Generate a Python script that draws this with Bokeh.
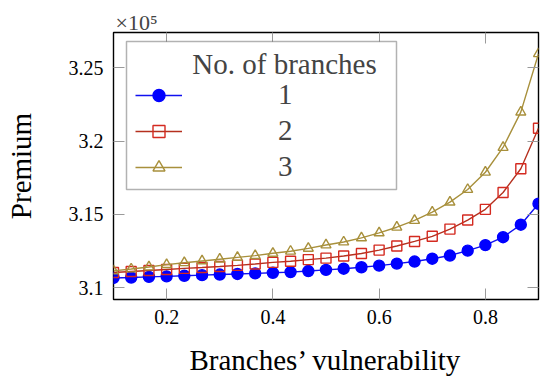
from bokeh.plotting import figure
from bokeh.models import (Legend, LegendItem, LinearAxis, FixedTicker, Range1d,
                          BoxAnnotation, Label, CustomJSTickFormatter)
from bokeh.embed import file_html
from bokeh.resources import INLINE

# ---- data (premium in units of 10^5) ----
vulnerability = [0.1, 0.1333, 0.1667, 0.2, 0.2333, 0.2667, 0.3, 0.3333, 0.3667,
                 0.4, 0.4333, 0.4667, 0.5, 0.5333, 0.5667, 0.6, 0.6333, 0.6667,
                 0.7, 0.7333, 0.7667, 0.8, 0.8333, 0.8667, 0.9]
premium_1 = [3.1067, 3.1070, 3.1074, 3.1078, 3.1082, 3.1086, 3.1090, 3.1094, 3.1098,
             3.1102, 3.1107, 3.1114, 3.1122, 3.1130, 3.1140, 3.1151, 3.1165, 3.1179,
             3.1198, 3.1220, 3.1253, 3.1291, 3.1345, 3.1430, 3.1573]
premium_2 = [3.1104, 3.1111, 3.1118, 3.1125, 3.1132, 3.1138, 3.1145, 3.1153, 3.1162,
             3.1173, 3.1181, 3.1192, 3.1202, 3.1217, 3.1234, 3.1257, 3.1285, 3.1316,
             3.1351, 3.1400, 3.1462, 3.1535, 3.1650, 3.1812, 3.2088]
premium_3 = [3.1115, 3.1128, 3.1142, 3.1158, 3.1171, 3.1183, 3.1195, 3.1207, 3.1219,
             3.1235, 3.1249, 3.1269, 3.1292, 3.1312, 3.1340, 3.1374, 3.1413, 3.1459,
             3.1516, 3.1584, 3.1670, 3.1788, 3.1957, 3.2198, 3.2596]
series_labels = ["1", "2", "3"]
x_ticks = [0.2, 0.4, 0.6, 0.8]
y_ticks = [3.1, 3.15, 3.2, 3.25]

FONT = "Liberation Serif"
BIG = "29px"

p = figure(width=550, height=386, output_backend="svg", toolbar_location=None,
           x_range=Range1d(0.1, 0.9), y_range=Range1d(3.092, 3.2741),
           min_border_left=113, min_border_right=12, min_border_top=32,
           min_border_bottom=87, title=None)
p.grid.visible = False
p.outline_line_color = "black"
p.outline_line_width = 1.4
p.background_fill_color = "white"

fmt = CustomJSTickFormatter(code="return tick.toString();")

def style_axis(ax, labels=True):
    ax.axis_line_color = None
    ax.major_tick_line_color = "#9a9a9a"
    ax.major_tick_line_width = 1
    ax.major_tick_in = 11
    ax.major_tick_out = 0
    ax.minor_tick_line_color = None
    ax.formatter = fmt
    if labels:
        ax.major_label_text_font = FONT
        ax.major_label_text_font_size = "20px"
        ax.major_label_text_color = "black"
        ax.axis_label_text_font = FONT
        ax.axis_label_text_font_size = BIG
        ax.axis_label_text_font_style = "normal"
        ax.axis_label_text_color = "black"
    else:
        ax.major_label_text_font_size = "1px"
        ax.major_label_text_color = None
        ax.major_label_standoff = 0

p.xaxis.ticker = FixedTicker(ticks=x_ticks)
p.yaxis.ticker = FixedTicker(ticks=y_ticks)
style_axis(p.xaxis[0])
style_axis(p.yaxis[0])
p.xaxis.axis_label = "Branches’ vulnerability"
p.yaxis.axis_label = "Premium"
p.xaxis.major_label_standoff = 10
p.yaxis.major_label_standoff = 10
p.xaxis.axis_label_standoff = 17
p.yaxis.axis_label_standoff = 29

top_ax = LinearAxis(ticker=FixedTicker(ticks=x_ticks))
right_ax = LinearAxis(ticker=FixedTicker(ticks=y_ticks))
style_axis(top_ax, labels=False)
style_axis(right_ax, labels=False)
p.add_layout(top_ax, "above")
p.add_layout(right_ax, "right")

# multiplier "x10^5" placed in the panel above the frame
p.add_layout(Label(x=2, y=10, x_units="screen", y_units="screen", text="×10⁵",
                   text_font=FONT, text_font_size="22px",
                   text_baseline="alphabetic"), "above")

# legend frame and title (screen units relative to the frame)
box = BoxAnnotation(left=13, right=283, bottom=110, top=258,
                    left_units="screen", right_units="screen",
                    bottom_units="screen", top_units="screen",
                    fill_color="white", fill_alpha=1.0,
                    line_color="black", line_width=1.5, level="annotation")
p.add_layout(box)
p.add_layout(Label(x=171, y=236, x_units="screen", y_units="screen",
                   text="No. of branches", text_font=FONT, text_font_size=BIG,
                   text_align="center", text_baseline="middle"))

styles = [
    dict(series=premium_1, line="#1010f0", marker="circle", mline="#0000ff",
         mfill="#0000ff", size=11),
    dict(series=premium_2, line="#b5301e", marker="square", mline="#d42a20",
         mfill=None, size=10),
    dict(series=premium_3, line="#a8903c", marker="triangle", mline="#a8903c",
         mfill=None, size=10),
]

items = []
for lab, st in zip(series_labels, styles):
    l = p.line(vulnerability, st["series"], line_color=st["line"], line_width=1.4)
    s = p.scatter(vulnerability, st["series"], marker=st["marker"], size=st["size"],
                  line_color=st["mline"], line_width=1.4,
                  fill_color=st["mfill"] if st["mfill"] else "white",
                  fill_alpha=1.0 if st["mfill"] else 0.0)
    items.append(LegendItem(label=lab, renderers=[l, s]))

legend = Legend(items=items, location=(17, 111), orientation="vertical",
                border_line_alpha=0, background_fill_alpha=0,
                glyph_width=47, glyph_height=30, label_height=30,
                label_standoff=96, spacing=3, padding=5, margin=0,
                label_text_font=FONT, label_text_font_size=BIG,
                label_text_baseline="middle")
p.add_layout(legend, "center")

open("out.html", "w").write(file_html(p, INLINE))
